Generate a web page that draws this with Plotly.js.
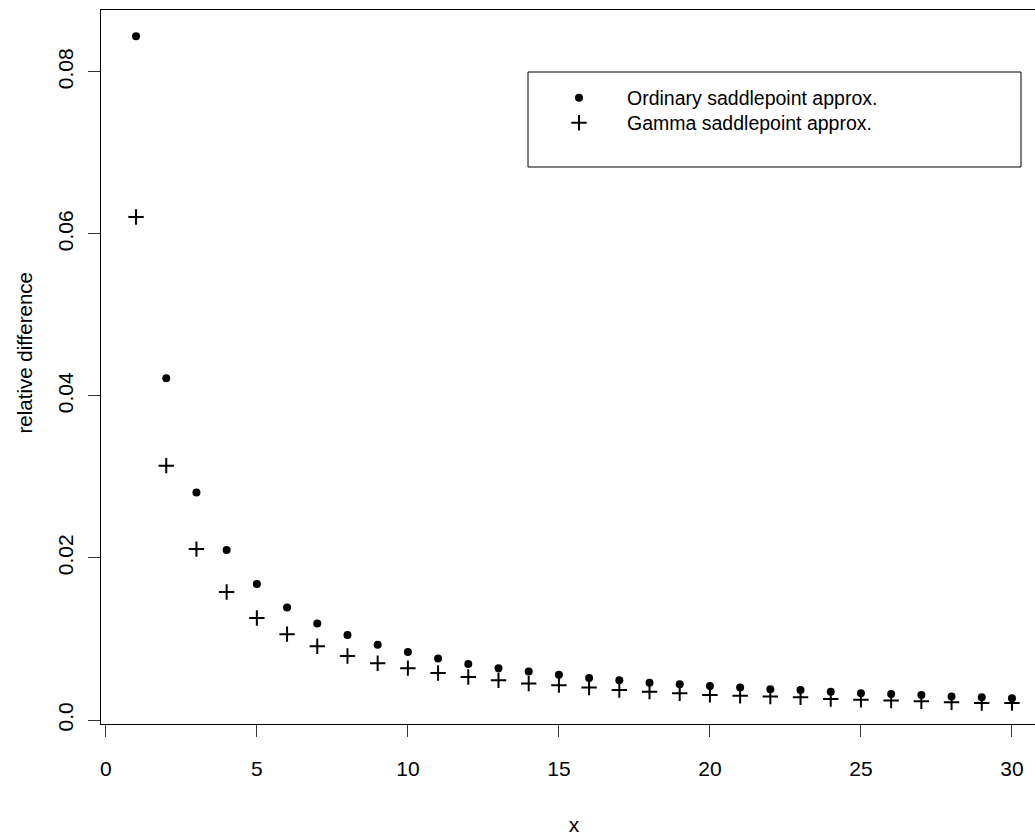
<!DOCTYPE html>
<html>
<head>
<meta charset="utf-8">
<script src="https://cdn.plot.ly/plotly-3.0.1.min.js"></script>
<style>
  html, body { margin: 0; padding: 0; background: #fff; overflow: hidden; }
  #chart { width: 1060px; height: 836px; }
</style>
</head>
<body>
<div id="chart"></div>
<script>
// ---- data ----
var xValues = [1,2,3,4,5,6,7,8,9,10,11,12,13,14,15,16,17,18,19,20,21,22,23,24,25,26,27,28,29,30];
var ordinaryDiff = [0.0844, 0.0422, 0.0281, 0.0210, 0.0168, 0.0139, 0.0119, 0.0105, 0.0093, 0.0084,
                    0.0076, 0.0069, 0.0064, 0.0060, 0.0056, 0.0052, 0.0049, 0.0046, 0.0044, 0.0042,
                    0.0040, 0.0038, 0.0037, 0.0035, 0.0033, 0.0032, 0.0031, 0.0029, 0.0028, 0.0027];
var gammaDiff = [0.0621, 0.0314, 0.0211, 0.0158, 0.0126, 0.0106, 0.0091, 0.0079, 0.0070, 0.0064,
                 0.0058, 0.0053, 0.0049, 0.0045, 0.0043, 0.0040, 0.0037, 0.0035, 0.0033, 0.0031,
                 0.0030, 0.0029, 0.0028, 0.0026, 0.0025, 0.0024, 0.0023, 0.0022, 0.0021, 0.0021];
var seriesNames = ["Ordinary saddlepoint approx.", "Gamma saddlepoint approx."];
var xTickVals = [0, 5, 10, 15, 20, 25, 30];
var xTickText = ["0", "5", "10", "15", "20", "25", "30"];
var yTickVals = [0, 0.02, 0.04, 0.06, 0.08];
var yTickText = ["0.0", "0.02", "0.04", "0.06", "0.08"];
var xTitle = "x";
var yTitle = "relative difference";

var FONT = "'Liberation Sans', Arial, Helvetica, sans-serif";

var traces = [
  {
    x: xValues, y: ordinaryDiff, name: seriesNames[0],
    type: "scatter", mode: "markers", legend: "legend",
    marker: { symbol: "circle", size: 8, color: "#000" },
    cliponaxis: false
  },
  {
    x: xValues, y: gammaDiff, name: seriesNames[1],
    type: "scatter", mode: "markers", legend: "legend2",
    marker: { symbol: "cross-thin", size: 11, color: "#000", line: { color: "#000", width: 2 } },
    cliponaxis: false
  }
];

function px2x(p) { return (p - 101) / 946; }
function py2y(p) { return (724 - p) / 714; }

var legendCommon = {
  font: { family: FONT, size: 19.5, color: "#000" },
  bgcolor: "rgba(0,0,0,0)",
  borderwidth: 0,
  xanchor: "left",
  yanchor: "middle",
  itemwidth: 86,
  itemclick: false,
  itemdoubleclick: false
};

var layout = {
  width: 1060,
  height: 836,
  margin: { l: 101, r: 13, t: 10, b: 112 },
  paper_bgcolor: "#fff",
  plot_bgcolor: "#fff",
  font: { family: FONT, size: 21, color: "#000" },
  showlegend: true,
  xaxis: {
    range: [-0.16, 31.16],
    tickmode: "array", tickvals: xTickVals, ticktext: xTickText,
    ticks: "outside", ticklen: 12, tickwidth: 1, tickcolor: "#333",
    ticklabelstandoff: 14,
    showline: true, mirror: true, linecolor: "#000", linewidth: 1,
    showgrid: false, zeroline: false,
    tickfont: { family: FONT, size: 21, color: "#000" },
    title: { text: xTitle, font: { family: FONT, size: 21, color: "#000" }, standoff: 39 }
  },
  yaxis: {
    range: [-0.000494, 0.08765],
    tickmode: "array", tickvals: yTickVals, ticktext: yTickText,
    tickangle: -90,
    ticks: "outside", ticklen: 12, tickwidth: 1, tickcolor: "#333",
    ticklabelstandoff: 7,
    showline: true, mirror: true, linecolor: "#000", linewidth: 1,
    showgrid: false, zeroline: false,
    tickfont: { family: FONT, size: 21, color: "#000" }
  },
  annotations: [
    {
      text: yTitle, xref: "paper", yref: "paper",
      x: px2x(24), y: py2y(353.5), xanchor: "center", yanchor: "middle",
      textangle: -90, showarrow: false,
      font: { family: FONT, size: 20.5, color: "#000" }
    }
  ],
  legend: Object.assign({}, legendCommon, { x: px2x(531), y: py2y(98) }),
  legend2: Object.assign({}, legendCommon, { x: px2x(531), y: py2y(123) }),
  shapes: [
    {
      type: "rect", xref: "paper", yref: "paper",
      x0: px2x(528), x1: px2x(1021), y0: py2y(167), y1: py2y(72),
      line: { color: "#000", width: 1 }, fillcolor: "rgba(0,0,0,0)", layer: "below"
    }
  ]
};

Plotly.newPlot("chart", traces, layout, { staticPlot: true, displayModeBar: false });
</script>
</body>
</html>
